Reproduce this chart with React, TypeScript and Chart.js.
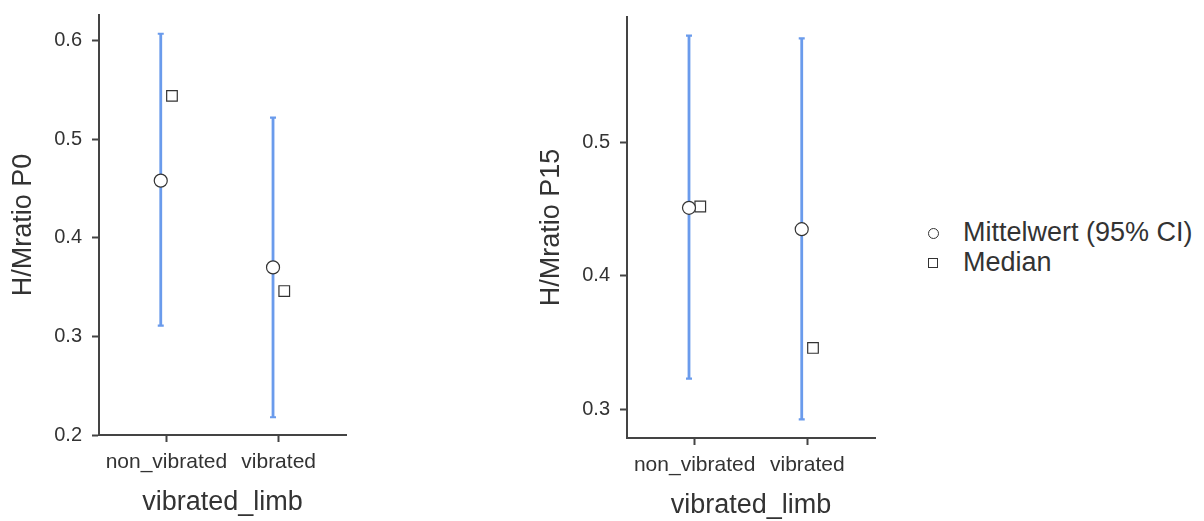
import React, { useEffect, useRef } from "react";
import { Chart, registerables } from "chart.js";

Chart.register(...registerables);

// ---- data ----
const CATEGORIES = ["non_vibrated", "vibrated"];

const P0_MEAN = [0.458, 0.37];
const P0_CI_LOW = [0.311, 0.218];
const P0_CI_HIGH = [0.607, 0.522];
const P0_MEDIAN = [0.544, 0.346];
const P0_TICKS = [0.2, 0.3, 0.4, 0.5, 0.6];

const P15_MEAN = [0.451, 0.435];
const P15_CI_LOW = [0.323, 0.2925];
const P15_CI_HIGH = [0.58, 0.578];
const P15_MEDIAN = [0.452, 0.346];
const P15_TICKS = [0.3, 0.4, 0.5];

const LEGEND_LABELS = ["Mittelwert (95% CI)", "Median"];
const X_TITLE = "vibrated_limb";

// ---- style ----
const FONT = "'Liberation Sans', Arial, Helvetica, sans-serif";
const INK = "#333333";
const AXIS = "#444444";
const CI_COLOR = "#6a9bec";
const DODGE = 0.05;

type PanelProps = {
  left: number;
  top: number;
  width: number;
  height: number;
  padTop: number;
  yTitle: string;
  yMin: number;
  yMax: number;
  yTicks: number[];
  mean: number[];
  median: number[];
  low: number[];
  high: number[];
};

function Panel(p: PanelProps) {
  const ref = useRef<HTMLCanvasElement | null>(null);

  useEffect(() => {
    if (!ref.current) return;
    const errorBars = {
      id: "errorBars",
      beforeDatasetsDraw(chart: any) {
        const { ctx } = chart;
        const x = chart.scales.x;
        const y = chart.scales.y;
        ctx.save();
        ctx.strokeStyle = CI_COLOR;
        p.low.forEach((lo, i) => {
          const px = x.getPixelForValue(i + 1 - DODGE);
          const yl = y.getPixelForValue(lo);
          const yh = y.getPixelForValue(p.high[i]);
          ctx.lineWidth = 2.8;
          ctx.beginPath();
          ctx.moveTo(px, yl);
          ctx.lineTo(px, yh);
          ctx.stroke();
          ctx.lineWidth = 2.2;
          ctx.beginPath();
          ctx.moveTo(px - 3, yl);
          ctx.lineTo(px + 3, yl);
          ctx.moveTo(px - 3, yh);
          ctx.lineTo(px + 3, yh);
          ctx.stroke();
        });
        ctx.restore();
      },
    };

    const chart = new Chart(ref.current, {
      type: "scatter",
      data: {
        datasets: [
          {
            label: LEGEND_LABELS[0],
            data: p.mean.map((v, i) => ({ x: i + 1 - DODGE, y: v })),
            pointStyle: "circle",
            pointRadius: 6.5,
            pointBackgroundColor: "#ffffff",
            pointBorderColor: INK,
            pointBorderWidth: 1.2,
            showLine: false,
          },
          {
            label: LEGEND_LABELS[1],
            data: p.median.map((v, i) => ({ x: i + 1 + DODGE, y: v })),
            pointStyle: "rect",
            pointRadius: 7.5,
            pointBackgroundColor: "#ffffff",
            pointBorderColor: INK,
            pointBorderWidth: 1.2,
            showLine: false,
          },
        ],
      },
      options: {
        responsive: false,
        animation: false,
        events: [],
        layout: { padding: { left: 0, right: 14, top: p.padTop, bottom: 0 } },
        plugins: {
          legend: { display: false },
          tooltip: { enabled: false },
        },
        scales: {
          x: {
            type: "linear",
            min: 0.4,
            max: 2.6,
            afterBuildTicks: (s: any) => {
              s.ticks = CATEGORIES.map((_, i) => ({ value: i + 1 }));
            },
            afterFit: (s: any) => {
              s.height = 86;
              s.paddingLeft = 0;
              s.paddingRight = 0;
            },
            ticks: {
              autoSkip: false,
              maxRotation: 0,
              padding: 8,
              color: INK,
              font: { family: FONT, size: 21 },
              callback: (v: any) => CATEGORIES[Math.round(Number(v)) - 1],
            },
            grid: {
              drawOnChartArea: false,
              drawTicks: true,
              tickLength: 7,
              tickColor: AXIS,
              tickWidth: 2,
            },
            border: { display: true, color: AXIS, width: 2 },
            title: {
              display: true,
              text: X_TITLE,
              color: INK,
              font: { family: FONT, size: 27 },
              padding: { top: 0, bottom: 2 },
            },
          },
          y: {
            type: "linear",
            min: p.yMin,
            max: p.yMax,
            afterBuildTicks: (s: any) => {
              s.ticks = p.yTicks.map((v) => ({ value: v }));
            },
            afterFit: (s: any) => {
              s.width = 99;
              s.paddingTop = 0;
              s.paddingBottom = 0;
            },
            ticks: {
              autoSkip: false,
              padding: 10,
              color: INK,
              font: { family: FONT, size: 20 },
              callback: (v: any) => Number(v).toFixed(1),
            },
            grid: {
              drawOnChartArea: false,
              drawTicks: true,
              tickLength: 7,
              tickColor: AXIS,
              tickWidth: 2,
            },
            border: { display: true, color: AXIS, width: 2 },
            title: {
              display: true,
              text: p.yTitle,
              color: INK,
              font: { family: FONT, size: 27 },
              padding: { top: 7, bottom: 0 },
            },
          },
        },
      },
      plugins: [errorBars],
    } as any);
    return () => chart.destroy();
  }, []);

  return (
    <canvas
      ref={ref}
      width={p.width}
      height={p.height}
      style={{
        position: "absolute",
        left: p.left,
        top: p.top,
        width: p.width,
        height: p.height,
      }}
    />
  );
}

export default function App() {
  const legendText: React.CSSProperties = {
    position: "absolute",
    left: 963,
    fontFamily: FONT,
    fontSize: 27,
    lineHeight: "30px",
    color: INK,
    whiteSpace: "nowrap",
  };
  return (
    <div
      style={{
        position: "absolute",
        left: 0,
        top: 0,
        width: 1204,
        height: 521,
        background: "#ffffff",
        overflow: "hidden",
      }}
    >
      <Panel
        left={0}
        top={0}
        width={360}
        height={521}
        padTop={15}
        yTitle="H/Mratio P0"
        yMin={0.2}
        yMax={0.626}
        yTicks={P0_TICKS}
        mean={P0_MEAN}
        median={P0_MEDIAN}
        low={P0_CI_LOW}
        high={P0_CI_HIGH}
      />
      <Panel
        left={528}
        top={3}
        width={361}
        height={521}
        padTop={14}
        yTitle="H/Mratio P15"
        yMin={0.2785}
        yMax={0.594}
        yTicks={P15_TICKS}
        mean={P15_MEAN}
        median={P15_MEDIAN}
        low={P15_CI_LOW}
        high={P15_CI_HIGH}
      />
      <div
        style={{
          position: "absolute",
          left: 927.5,
          top: 228,
          width: 11,
          height: 11,
          borderRadius: "50%",
          border: `1.2px solid ${INK}`,
          boxSizing: "border-box",
          background: "#fff",
        }}
      />
      <div style={{ ...legendText, top: 217 }}>{LEGEND_LABELS[0]}</div>
      <div
        style={{
          position: "absolute",
          left: 928,
          top: 258,
          width: 10,
          height: 10,
          border: `1.2px solid ${INK}`,
          boxSizing: "border-box",
          background: "#fff",
        }}
      />
      <div style={{ ...legendText, top: 247 }}>{LEGEND_LABELS[1]}</div>
    </div>
  );
}
